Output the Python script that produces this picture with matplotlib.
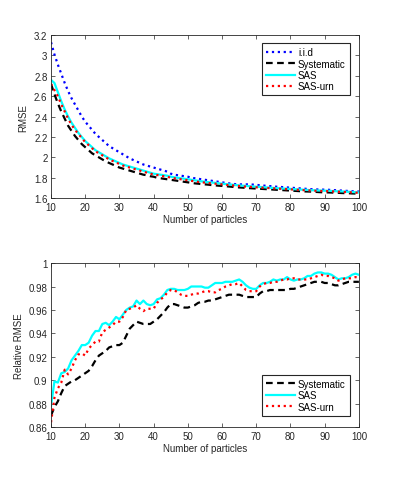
import numpy as np
import matplotlib.pyplot as plt

plt.rcParams['font.family'] = ['Liberation Sans', 'DejaVu Sans']
plt.rcParams['font.size'] = 7

particles = list(range(10, 101))

# top panel: RMSE
rmse_iid = [3.13, 3.01, 2.91, 2.82, 2.73, 2.65, 2.58, 2.52, 2.46, 2.40,
            2.35, 2.31, 2.27, 2.23, 2.20, 2.17, 2.14, 2.11, 2.09, 2.07,
            2.05, 2.03, 2.01, 1.99, 1.975, 1.96, 1.945, 1.93, 1.92, 1.91,
            1.90, 1.89, 1.88, 1.87, 1.86, 1.84, 1.83, 1.825, 1.82, 1.815,
            1.81, 1.80, 1.795, 1.79, 1.785, 1.78, 1.775, 1.77, 1.765, 1.76,
            1.755, 1.75, 1.745, 1.74, 1.737, 1.735, 1.735, 1.735, 1.735, 1.733,
            1.73, 1.727, 1.724, 1.72, 1.718, 1.715, 1.712, 1.71, 1.707, 1.705,
            1.702, 1.70, 1.698, 1.695, 1.693, 1.69, 1.688, 1.686, 1.685, 1.684,
            1.683, 1.682, 1.68, 1.678, 1.676, 1.674, 1.672, 1.67, 1.668, 1.666,
            1.665]
rmse_sys = [2.72, 2.62, 2.53, 2.45, 2.38, 2.31, 2.26, 2.21, 2.17, 2.13,
            2.10, 2.07, 2.04, 2.02, 2.00, 1.98, 1.96, 1.945, 1.93, 1.915,
            1.90, 1.89, 1.88, 1.87, 1.86, 1.85, 1.84, 1.83, 1.825, 1.815,
            1.81, 1.80, 1.795, 1.79, 1.785, 1.78, 1.775, 1.77, 1.765, 1.76,
            1.755, 1.75, 1.745, 1.742, 1.738, 1.735, 1.732, 1.728, 1.725, 1.722,
            1.72, 1.717, 1.714, 1.711, 1.708, 1.705, 1.703, 1.70, 1.698, 1.696,
            1.694, 1.692, 1.69, 1.688, 1.686, 1.684, 1.682, 1.68, 1.678, 1.676,
            1.674, 1.672, 1.67, 1.668, 1.666, 1.665, 1.664, 1.662, 1.66, 1.658,
            1.657, 1.656, 1.655, 1.653, 1.652, 1.65, 1.649, 1.648, 1.646, 1.645,
            1.643]
rmse_sas = [2.76, 2.73, 2.64, 2.55, 2.47, 2.40, 2.34, 2.29, 2.24, 2.20,
            2.16, 2.13, 2.10, 2.07, 2.05, 2.03, 2.01, 1.99, 1.975, 1.96,
            1.945, 1.93, 1.92, 1.91, 1.90, 1.89, 1.88, 1.87, 1.86, 1.85,
            1.84, 1.835, 1.83, 1.825, 1.82, 1.81, 1.805, 1.80, 1.795, 1.79,
            1.785, 1.78, 1.775, 1.77, 1.765, 1.76, 1.757, 1.753, 1.75, 1.746,
            1.742, 1.738, 1.735, 1.732, 1.728, 1.725, 1.722, 1.72, 1.717, 1.714,
            1.712, 1.71, 1.707, 1.705, 1.702, 1.70, 1.698, 1.696, 1.694, 1.692,
            1.69, 1.688, 1.686, 1.684, 1.682, 1.68, 1.678, 1.677, 1.675, 1.674,
            1.673, 1.672, 1.67, 1.668, 1.667, 1.666, 1.664, 1.662, 1.66, 1.658,
            1.655]
rmse_urn = [2.72, 2.66, 2.60, 2.52, 2.45, 2.38, 2.32, 2.27, 2.23, 2.19,
            2.15, 2.12, 2.09, 2.06, 2.04, 2.02, 2.00, 1.98, 1.965, 1.95,
            1.935, 1.92, 1.91, 1.90, 1.89, 1.88, 1.87, 1.86, 1.85, 1.84,
            1.833, 1.827, 1.82, 1.815, 1.81, 1.80, 1.795, 1.79, 1.785, 1.78,
            1.775, 1.77, 1.765, 1.76, 1.756, 1.752, 1.748, 1.745, 1.742, 1.738,
            1.735, 1.731, 1.728, 1.725, 1.722, 1.719, 1.716, 1.713, 1.711, 1.708,
            1.706, 1.704, 1.702, 1.70, 1.698, 1.696, 1.694, 1.692, 1.69, 1.688,
            1.686, 1.684, 1.682, 1.68, 1.678, 1.676, 1.675, 1.673, 1.672, 1.67,
            1.669, 1.668, 1.666, 1.665, 1.663, 1.662, 1.66, 1.658, 1.656, 1.654,
            1.652]

# bottom panel: relative RMSE
rel_sys = [0.870, 0.877, 0.882, 0.889, 0.895, 0.897, 0.899, 0.900, 0.902, 0.904,
           0.906, 0.908, 0.912, 0.917, 0.921, 0.923, 0.925, 0.928, 0.929, 0.930,
           0.930, 0.932, 0.938, 0.944, 0.947, 0.950, 0.949, 0.948, 0.948, 0.948,
           0.950, 0.952, 0.955, 0.958, 0.962, 0.965, 0.965, 0.964, 0.963, 0.962,
           0.962, 0.963, 0.964, 0.966, 0.967, 0.967, 0.968, 0.968, 0.969, 0.970,
           0.971, 0.972, 0.973, 0.973, 0.973, 0.973, 0.972, 0.971, 0.971, 0.971,
           0.971, 0.974, 0.976, 0.976, 0.977, 0.977, 0.977, 0.977, 0.977, 0.977,
           0.978, 0.978, 0.979, 0.980, 0.981, 0.982, 0.983, 0.984, 0.984, 0.984,
           0.983, 0.983, 0.982, 0.981, 0.981, 0.982, 0.983, 0.984, 0.984, 0.984,
           0.984]
rel_sas = [0.878, 0.899, 0.898, 0.906, 0.907, 0.910, 0.917, 0.921, 0.925, 0.930,
           0.930, 0.932, 0.938, 0.942, 0.942, 0.948, 0.949, 0.947, 0.950, 0.954,
           0.952, 0.956, 0.960, 0.962, 0.963, 0.968, 0.965, 0.968, 0.965, 0.964,
           0.965, 0.969, 0.970, 0.973, 0.977, 0.978, 0.978, 0.977, 0.977, 0.977,
           0.978, 0.980, 0.980, 0.980, 0.980, 0.979, 0.979, 0.981, 0.983, 0.983,
           0.983, 0.984, 0.984, 0.984, 0.985, 0.986, 0.984, 0.981, 0.979, 0.978,
           0.978, 0.981, 0.983, 0.983, 0.984, 0.986, 0.985, 0.986, 0.986, 0.988,
           0.986, 0.985, 0.986, 0.986, 0.987, 0.989, 0.989, 0.991, 0.992, 0.992,
           0.991, 0.991, 0.990, 0.988, 0.986, 0.987, 0.987, 0.988, 0.990, 0.991,
           0.990]
rel_urn = [0.864, 0.885, 0.893, 0.898, 0.909, 0.905, 0.910, 0.917, 0.922, 0.923,
           0.921, 0.927, 0.930, 0.933, 0.933, 0.941, 0.943, 0.945, 0.947, 0.950,
           0.950, 0.954, 0.960, 0.961, 0.962, 0.964, 0.961, 0.959, 0.961, 0.961,
           0.961, 0.966, 0.969, 0.971, 0.975, 0.977, 0.977, 0.975, 0.973, 0.972,
           0.972, 0.973, 0.974, 0.974, 0.975, 0.976, 0.976, 0.975, 0.975, 0.977,
           0.978, 0.980, 0.981, 0.982, 0.982, 0.983, 0.980, 0.977, 0.976, 0.976,
           0.976, 0.980, 0.982, 0.983, 0.983, 0.984, 0.984, 0.985, 0.986, 0.986,
           0.987, 0.987, 0.986, 0.986, 0.986, 0.986, 0.987, 0.988, 0.989, 0.990,
           0.989, 0.989, 0.988, 0.987, 0.985, 0.986, 0.987, 0.987, 0.987, 0.988,
           0.988]

axis_color = '#262626'


def style_axes(ax):
    ax.tick_params(direction='in', top=True, right=True, length=3, width=0.5,
                   colors=axis_color, labelsize=7, pad=2.5)
    for s in ax.spines.values():
        s.set_linewidth(0.6)
        s.set_color(axis_color)
    ax.set_xlim(10, 100)
    ax.set_xticks(range(10, 101, 10))
    ax.set_xlabel('Number of particles', color=axis_color, labelpad=2)


def style_legend(leg):
    frame = leg.get_frame()
    frame.set_edgecolor(axis_color)
    frame.set_linewidth(0.8)
    frame.set_boxstyle('square', pad=0)


fig = plt.figure(figsize=(3.97, 4.81), dpi=100)

ax1 = fig.add_axes([0.1285, 0.586, 0.7755, 0.339])
ax1.plot(particles, rmse_iid, color='blue', linestyle=':', linewidth=1.6, label='i.i.d')
ax1.plot(particles, rmse_sys, color='black', linestyle=(0, (3, 2)), linewidth=1.6, label='Systematic')
ax1.plot(particles, rmse_sas, color='cyan', linestyle='-', linewidth=1.6, label='SAS')
ax1.plot(particles, rmse_urn, color='red', linestyle=':', linewidth=1.6, label='SAS-urn')
style_axes(ax1)
ax1.set_ylim(1.6, 3.2)
ax1.set_yticks(np.arange(1.6, 3.21, 0.2))
ax1.set_yticklabels(['1.6', '1.8', '2', '2.2', '2.4', '2.6', '2.8', '3', '3.2'])
ax1.set_ylabel('RMSE', color=axis_color, labelpad=4)
leg1 = ax1.legend(loc='upper right', bbox_to_anchor=(0.97, 0.95), fontsize=7,
                  fancybox=False, framealpha=1, handlelength=3.0, handletextpad=0.3,
                  labelspacing=0.15, borderpad=0.4, borderaxespad=0)
style_legend(leg1)

ax2 = fig.add_axes([0.1285, 0.110, 0.7755, 0.341])
ax2.plot(particles, rel_sys, color='black', linestyle=(0, (3, 2)), linewidth=1.6, label='Systematic')
ax2.plot(particles, rel_sas, color='cyan', linestyle='-', linewidth=1.6, label='SAS')
ax2.plot(particles, rel_urn, color='red', linestyle=':', linewidth=1.6, label='SAS-urn')
style_axes(ax2)
ax2.set_ylim(0.86, 1.0)
ax2.set_yticks(np.arange(0.86, 1.001, 0.02))
ax2.set_yticklabels(['0.86', '0.88', '0.9', '0.92', '0.94', '0.96', '0.98', '1'])
ax2.set_ylabel('Relative RMSE', color=axis_color, labelpad=3)
leg2 = ax2.legend(loc='lower right', bbox_to_anchor=(0.97, 0.07), fontsize=7,
                  fancybox=False, framealpha=1, handlelength=3.0, handletextpad=0.3,
                  labelspacing=0.15, borderpad=0.4, borderaxespad=0)
style_legend(leg2)

fig.savefig('out.png', dpi=100)
